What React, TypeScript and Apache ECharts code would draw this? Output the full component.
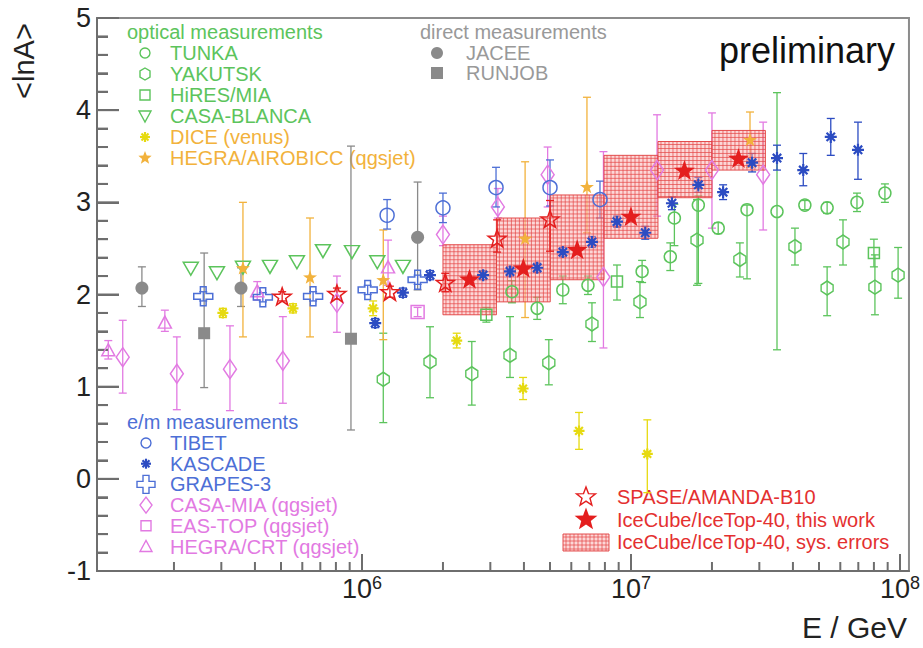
import React, { useEffect, useRef } from 'react';
import * as echarts from 'echarts';

// ---------------- data: [E (GeV), <lnA>, error down, error up] ----------------
const jacee = [[1.52e5, 2.07, 0.2, 0.23], [3.55e5, 2.07, 0.2, 0.22], [1.61e6, 2.62, 0.57, 0.6]];
const runjob = [[2.59e5, 1.58, 0.59, 0.87], [9.1e5, 1.52, 0.99, 2.09]];
const casaBlanca = [[2.31e5, 2.28], [2.89e5, 2.23], [3.61e5, 2.29], [4.55e5, 2.3], [5.73e5, 2.35], [7.16e5, 2.47], [9.18e5, 2.46], [1.14e6, 2.35], [1.42e6, 2.3]];
const hiresMia = [[2.9e6, 1.78, 0.08, 0.08], [8.87e6, 2.14, 0.2, 0.18], [8.0e7, 2.45, 0.15, 0.15]];
const dice = [[3.04e5, 1.8, 0.05, 0.05], [5.54e5, 1.85, 0.05, 0.05], [1.1e6, 1.85, 0.08, 0.08], [2.25e6, 1.5, 0.08, 0.08], [3.97e6, 0.98, 0.12, 0.12], [6.41e6, 0.52, 0.2, 0.2], [1.15e7, 0.27, 0.42, 0.37]];
const hegraAiro = [[3.61e5, 2.29, 0.75, 0.71], [6.41e5, 2.19, 0.65, 0.64], [1.2e6, 2.16, 0.65, 0.54], [4.04e6, 2.61, 0.86, 0.83], [6.86e6, 3.17, 0.5, 0.97], [2.77e7, 3.68, 0.3, 0.3]];
const tunka = [[3.61e6, 2.03, 0.12, 0.12], [4.48e6, 1.85, 0.12, 0.12], [5.58e6, 2.05, 0.15, 0.15], [6.92e6, 2.1, 0.1, 0.1], [1.1e7, 2.25, 0.12, 0.12], [1.4e7, 2.41, 0.15, 0.15], [1.45e7, 2.83, 0.3, 0.15], [1.78e7, 2.97, 0.85, 0.1], [2.11e7, 2.72, 0.06, 0.06], [2.7e7, 2.92, 0.75, 0.05], [3.49e7, 2.9, 1.5, 1.29], [4.43e7, 2.97, 0.05, 0.05], [5.36e7, 2.94, 0.06, 0.06], [6.92e7, 3.0, 0.1, 0.1], [8.79e7, 3.1, 0.1, 0.1]];
const yakutsk = [[1.2e6, 1.08, 0.47, 0.5], [1.79e6, 1.27, 0.39, 0.38], [2.56e6, 1.14, 0.34, 0.35], [3.55e6, 1.34, 0.24, 0.42], [4.95e6, 1.26, 0.24, 0.25], [7.16e6, 1.68, 0.19, 0.23], [1.08e7, 1.92, 0.17, 0.22], [1.76e7, 2.59, 0.49, 0.44], [2.54e7, 2.38, 0.19, 0.18], [4.07e7, 2.52, 0.2, 0.2], [5.36e7, 2.07, 0.3, 0.23], [6.14e7, 2.57, 0.25, 0.24], [8.07e7, 2.08, 0.3, 0.35], [9.84e7, 2.21, 0.25, 0.3]];
const tibet = [[1.24e6, 2.86, 0.15, 0.17], [2.0e6, 2.94, 0.16, 0.16], [3.15e6, 3.16, 0.21, 0.22], [5.0e6, 3.16, 0.2, 0.3], [7.67e6, 3.03, 0.2, 0.2]];
const kascade = [[1.12e6, 1.69, 0.05, 0.05], [1.42e6, 2.02, 0.05, 0.05], [1.79e6, 2.21, 0.05, 0.05], [2.82e6, 2.21, 0.05, 0.05], [3.55e6, 2.25, 0.05, 0.05], [4.48e6, 2.29, 0.05, 0.05], [5.58e6, 2.46, 0.05, 0.05], [7.16e6, 2.57, 0.06, 0.06], [8.87e6, 2.79, 0.06, 0.06], [1.13e7, 2.67, 0.07, 0.07], [1.42e7, 2.99, 0.07, 0.07], [1.78e7, 3.19, 0.08, 0.08], [2.2e7, 3.11, 0.08, 0.08], [2.82e7, 3.43, 0.1, 0.1], [3.49e7, 3.48, 0.13, 0.14], [4.37e7, 3.35, 0.17, 0.18], [5.53e7, 3.71, 0.2, 0.2], [6.98e7, 3.57, 0.32, 0.3]];
const grapes3 = [[2.57e5, 1.98, 0.05, 0.05], [4.28e5, 1.97, 0.05, 0.05], [6.58e5, 1.98, 0.05, 0.05], [1.05e6, 2.05, 0.05, 0.05], [1.61e6, 2.16, 0.05, 0.05]];
const casaMia = [[1.29e5, 1.32, 0.39, 0.4], [2.05e5, 1.14, 0.39, 0.4], [3.23e5, 1.19, 0.45, 0.47], [5.08e5, 1.28, 0.46, 0.48], [8.07e5, 1.91, 0.32, 0.29], [2.0e6, 2.65, 0.12, 0.2], [3.2e6, 2.95, 0.12, 0.2], [4.9e6, 3.3, 0.35, 0.3], [7.9e6, 2.19, 0.77, 1.36], [1.25e7, 3.35, 0.5, 0.6], [2.0e7, 3.35, 0.63, 0.62], [3.1e7, 3.3, 0.6, 0.57]];
const easTop = [[1.61e6, 1.81, 0.05, 0.05]];
const hegraCrt = [[1.14e5, 1.4, 0.1, 0.1], [1.85e5, 1.7, 0.1, 0.13], [4.08e5, 2.04, 0.1, 0.1], [1.25e6, 2.3, 0.2, 0.29]];
const spase = [[5.05e5, 1.98, 0.05, 0.05], [8.07e5, 2.01, 0.06, 0.06], [1.27e6, 2.03, 0.06, 0.06], [2.04e6, 2.13, 0.1, 0.1], [3.18e6, 2.61, 0.15, 0.2], [5.0e6, 2.82, 0.35, 0.2]];
const iceTopE = [2.51e6, 3.98e6, 6.31e6, 1.0e7, 1.58e7, 2.51e7];
const iceTopLnA = [2.17, 2.29, 2.49, 2.85, 3.35, 3.48];
const sysBinEdges = [2.0e6, 3.16e6, 5.01e6, 7.94e6, 1.26e7, 2.0e7, 3.16e7];
const sysLow = [1.78, 1.92, 2.16, 2.61, 3.05, 3.35];
const sysHigh = [2.54, 2.83, 3.08, 3.51, 3.66, 3.78];

const xMajorTicks = [1e6, 1e7, 1e8];
const xMinorTicks = [2e5, 3e5, 4e5, 5e5, 6e5, 7e5, 8e5, 9e5, 2e6, 3e6, 4e6, 5e6, 6e6, 7e6, 8e6, 9e6, 2e7, 3e7, 4e7, 5e7, 6e7, 7e7, 8e7, 9e7];
const yMajorTicks = [-1, 0, 1, 2, 3, 4, 5];
const yMinorTicks = [-0.8, -0.6, -0.4, -0.2, 0.2, 0.4, 0.6, 0.8, 1.2, 1.4, 1.6, 1.8, 2.2, 2.4, 2.6, 2.8, 3.2, 3.4, 3.6, 3.8, 4.2, 4.4, 4.6, 4.8];
const X_MIN = 1.035e5;
const X_MAX = 1.08e8;
const Y_MIN = -1;
const Y_MAX = 5;

// ---------------- style ----------------
const FONT = '"Liberation Sans", Arial, Helvetica, sans-serif';
const GREEN = '#5cc45c';
const YELLOW = '#e6da10';
const ORANGE = '#f2b23c';
const GRAY = '#8a8a8a';
const BLUE = '#4d6fd6';
const KBLUE = '#2c4cc2';
const MAGENTA = '#e27ae2';
const RED = '#e41e1e';
const AXIS = '#6e6e6e';

function starPoints(cx: number, cy: number, R: number, r: number) {
  const pts: number[][] = [];
  for (let i = 0; i < 10; i++) {
    const a = (-90 + 36 * i) * Math.PI / 180;
    const rad = i % 2 === 0 ? R : r;
    pts.push([cx + rad * Math.cos(a), cy + rad * Math.sin(a)]);
  }
  return pts;
}
const starPath = 'path://M' + starPoints(50, 50, 50, 20).map(p => p[0].toFixed(1) + ',' + p[1].toFixed(1)).join(' L') + ' Z';
const SYM = {
  star: starPath,
  cross: 'path://M35,0 L65,0 L65,35 L100,35 L100,65 L65,65 L65,100 L35,100 L35,65 L0,65 L0,35 L35,35 Z',
  asterisk: 'path://M0,50 L100,50 M50,0 L50,100 M15,15 L85,85 M85,15 L15,85',
  tridown: 'path://M0,0 L100,0 L50,87 Z',
  hex: 'path://M50,0 L90,28 L90,72 L50,100 L10,72 L10,28 Z',
};

type SetDef = { name: string; data: number[][]; symbol: string; size: any; color: string; fill: boolean; bw?: number };
const sets: SetDef[] = [
  { name: 'JACEE', data: jacee, symbol: 'circle', size: 13, color: GRAY, fill: true },
  { name: 'RUNJOB', data: runjob, symbol: 'rect', size: 12, color: GRAY, fill: true },
  { name: 'CASA-BLANCA', data: casaBlanca, symbol: SYM.tridown, size: [15, 13], color: GREEN, fill: false },
  { name: 'HiRES/MIA', data: hiresMia, symbol: 'rect', size: 11, color: GREEN, fill: false },
  { name: 'TUNKA', data: tunka, symbol: 'circle', size: 12, color: GREEN, fill: false },
  { name: 'YAKUTSK', data: yakutsk, symbol: SYM.hex, size: [12, 14], color: GREEN, fill: false },
  { name: 'DICE (venus)', data: dice, symbol: SYM.asterisk, size: 11, color: YELLOW, fill: false, bw: 2.2 },
  { name: 'HEGRA/AIROBICC (qgsjet)', data: hegraAiro, symbol: SYM.star, size: 14, color: ORANGE, fill: true },
  { name: 'CASA-MIA (qgsjet)', data: casaMia, symbol: 'diamond', size: [13, 19], color: MAGENTA, fill: false },
  { name: 'EAS-TOP (qgsjet)', data: easTop, symbol: 'rect', size: 13, color: MAGENTA, fill: false },
  { name: 'HEGRA/CRT (qgsjet)', data: hegraCrt, symbol: 'triangle', size: [13, 12], color: MAGENTA, fill: false },
  { name: 'TIBET', data: tibet, symbol: 'circle', size: 14, color: BLUE, fill: false },
  { name: 'GRAPES-3', data: grapes3, symbol: SYM.cross, size: 19, color: BLUE, fill: false },
  { name: 'KASCADE', data: kascade, symbol: SYM.asterisk, size: 12, color: KBLUE, fill: false, bw: 2.2 },
];

function errorSeries(name: string, data: number[][], color: string) {
  const rows = data.filter(d => d.length > 2).map(d => [d[0], d[1] - d[2], d[1] + d[3]]);
  return {
    type: 'custom', name: name + ' err', clip: false, silent: true,
    data: rows,
    renderItem: (params: any, api: any) => {
      const x = api.value(0);
      const lo = api.coord([x, api.value(1)]);
      const hi = api.coord([x, api.value(2)]);
      const w = 4;
      const st = { stroke: color, lineWidth: 1.3 };
      return {
        type: 'group', children: [
          { type: 'line', shape: { x1: lo[0], y1: lo[1], x2: hi[0], y2: hi[1] }, style: st },
          { type: 'line', shape: { x1: lo[0] - w, y1: lo[1], x2: lo[0] + w, y2: lo[1] }, style: st },
          { type: 'line', shape: { x1: hi[0] - w, y1: hi[1], x2: hi[0] + w, y2: hi[1] }, style: st },
        ],
      };
    },
  };
}

function scatterSeries(s: SetDef) {
  return {
    type: 'scatter', name: s.name, silent: true,
    symbol: s.symbol, symbolSize: s.size, symbolKeepAspect: s.symbol === SYM.star,
    data: s.data.map(d => [d[0], d[1]]),
    itemStyle: {
      color: s.fill ? s.color : 'rgba(0,0,0,0)',
      borderColor: s.color,
      borderWidth: s.bw ?? (s.fill ? 0 : 1.5),
      opacity: 1,
    },
  };
}

function hatch(x0: number, y0: number, w: number, h: number) {
  const ch: any[] = [{ type: 'rect', shape: { x: x0, y: y0, width: w, height: h }, style: { fill: 'rgba(250,175,175,0.5)', stroke: 'rgba(225,60,60,0.9)', lineWidth: 1 } }];
  const st = { stroke: 'rgba(228,70,70,0.7)', lineWidth: 1 };
  for (let x = x0 + 3; x < x0 + w - 1; x += 4) ch.push({ type: 'line', shape: { x1: x, y1: y0, x2: x, y2: y0 + h }, style: st });
  for (let y = y0 + 3; y < y0 + h - 1; y += 4) ch.push({ type: 'line', shape: { x1: x0, y1: y, x2: x0 + w, y2: y }, style: st });
  return ch;
}

const sysSeries = {
  type: 'custom', name: 'sys', clip: false, silent: true,
  data: sysLow.map((lo, i) => [sysBinEdges[i], sysBinEdges[i + 1], lo, sysHigh[i]]),
  renderItem: (params: any, api: any) => {
    const p0 = api.coord([api.value(0), api.value(3)]);
    const p1 = api.coord([api.value(1), api.value(2)]);
    return { type: 'group', children: hatch(p0[0], p0[1], p1[0] - p0[0], p1[1] - p0[1]) };
  },
};

// all axis tick marks (ROOT style, inside the frame), placed through the axes' scales
const axisTickSeries = {
  type: 'custom', name: 'axis ticks', clip: false, silent: true,
  data: [[1e6, 0]],
  renderItem: (params: any, api: any) => {
    const cs = params.coordSys;
    const left = cs.x;
    const bottom = cs.y + cs.height;
    const st = { stroke: AXIS, lineWidth: 2 };
    const ch: any[] = [];
    xMajorTicks.forEach(t => { const x = api.coord([t, 0])[0]; ch.push({ type: 'line', shape: { x1: x, y1: bottom, x2: x, y2: bottom - 17 }, style: st }); });
    xMinorTicks.forEach(t => { const x = api.coord([t, 0])[0]; ch.push({ type: 'line', shape: { x1: x, y1: bottom, x2: x, y2: bottom - 9 }, style: st }); });
    yMajorTicks.forEach(t => { const y = api.coord([1e6, t])[1]; ch.push({ type: 'line', shape: { x1: left, y1: y, x2: left + 22, y2: y }, style: st }); });
    yMinorTicks.forEach(t => { const y = api.coord([1e6, t])[1]; ch.push({ type: 'line', shape: { x1: left, y1: y, x2: left + 11, y2: y }, style: st }); });
    return { type: 'group', children: ch };
  },
};

// ---------------- legend (graphic) ----------------
function marker(kind: string, cx: number, cy: number, color: string): any {
  const open = { fill: 'none', stroke: color, lineWidth: 1.4 };
  const full = { fill: color };
  switch (kind) {
    case 'circle': return { type: 'circle', shape: { cx, cy, r: 5 }, style: open };
    case 'fcircle': return { type: 'circle', shape: { cx, cy, r: 6 }, style: full };
    case 'square': return { type: 'rect', shape: { x: cx - 5, y: cy - 5, width: 10, height: 10 }, style: open };
    case 'fsquare': return { type: 'rect', shape: { x: cx - 6, y: cy - 6, width: 12, height: 12 }, style: full };
    case 'hex': return { type: 'polygon', shape: { points: [[cx, cy - 6], [cx + 5, cy - 3], [cx + 5, cy + 3], [cx, cy + 6], [cx - 5, cy + 3], [cx - 5, cy - 3]] }, style: open };
    case 'tridown': return { type: 'polygon', shape: { points: [[cx - 6, cy - 5], [cx + 6, cy - 5], [cx, cy + 6]] }, style: open };
    case 'triup': return { type: 'polygon', shape: { points: [[cx - 6, cy + 5], [cx + 6, cy + 5], [cx, cy - 6]] }, style: open };
    case 'diamond': return { type: 'polygon', shape: { points: [[cx, cy - 8], [cx + 6, cy], [cx, cy + 8], [cx - 6, cy]] }, style: open };
    case 'asterisk': {
      const st = { stroke: color, lineWidth: 2.2 };
      return { type: 'group', children: [
        { type: 'line', shape: { x1: cx - 5, y1: cy, x2: cx + 5, y2: cy }, style: st },
        { type: 'line', shape: { x1: cx, y1: cy - 5, x2: cx, y2: cy + 5 }, style: st },
        { type: 'line', shape: { x1: cx - 3.5, y1: cy - 3.5, x2: cx + 3.5, y2: cy + 3.5 }, style: st },
        { type: 'line', shape: { x1: cx + 3.5, y1: cy - 3.5, x2: cx - 3.5, y2: cy + 3.5 }, style: st },
      ] };
    }
    case 'fstarSmall': return { type: 'polygon', shape: { points: starPoints(cx, cy, 7, 3) }, style: full };
    case 'ostar': return { type: 'polygon', shape: { points: starPoints(cx, cy, 10, 4.2) }, style: { fill: 'none', stroke: color, lineWidth: 1.4 } };
    case 'fstar': return { type: 'polygon', shape: { points: starPoints(cx, cy, 12, 5) }, style: full };
    case 'cross': return { type: 'polygon', shape: { points: [[cx - 3, cy - 9], [cx + 3, cy - 9], [cx + 3, cy - 3], [cx + 9, cy - 3], [cx + 9, cy + 3], [cx + 3, cy + 3], [cx + 3, cy + 9], [cx - 3, cy + 9], [cx - 3, cy + 3], [cx - 9, cy + 3], [cx - 9, cy - 3], [cx - 3, cy - 3]] }, style: open };
    case 'box': return { type: 'group', children: hatch(cx - 23, cy - 8, 46, 17) };
  }
  return null;
}

function text(t: string, x: number, y: number, color: string, size = 20, align = 'left'): any {
  return { type: 'text', x, y, style: { text: t, fill: color, fontSize: size, fontFamily: FONT, align, verticalAlign: 'middle' } };
}

const legendOptical = [
  ['circle', 'TUNKA', GREEN, GREEN], ['hex', 'YAKUTSK', GREEN, GREEN], ['square', 'HiRES/MIA', GREEN, GREEN],
  ['tridown', 'CASA-BLANCA', GREEN, GREEN], ['asterisk', 'DICE (venus)', YELLOW, ORANGE], ['fstarSmall', 'HEGRA/AIROBICC (qgsjet)', ORANGE, ORANGE],
];
const legendDirect = [['fcircle', 'JACEE'], ['fsquare', 'RUNJOB']];
const legendEm = [
  ['circle', 'TIBET', BLUE, BLUE], ['asterisk', 'KASCADE', KBLUE, BLUE], ['cross', 'GRAPES-3', BLUE, BLUE],
  ['diamond', 'CASA-MIA (qgsjet)', MAGENTA, MAGENTA], ['square', 'EAS-TOP (qgsjet)', MAGENTA, MAGENTA], ['triup', 'HEGRA/CRT (qgsjet)', MAGENTA, MAGENTA],
];
const legendRed = [['ostar', 'SPASE/AMANDA-B10'], ['fstar', 'IceCube/IceTop-40, this work'], ['box', 'IceCube/IceTop-40, sys. errors']];

function buildGraphic() {
  const g: any[] = [];
  g.push(text('optical measurements', 127, 32, GREEN));
  legendOptical.forEach((r, i) => { const y = 53 + i * 21; g.push(marker(r[0], 145, y, r[2])); g.push(text(r[1], 170, y, r[3])); });
  g.push(text('direct measurements', 420, 32, '#999999'));
  legendDirect.forEach((r, i) => { const y = 53 + i * 20; g.push(marker(r[0], 437, y, GRAY)); g.push(text(r[1], 466, y, '#999999')); });
  g.push(text('e/m measurements', 127, 422, BLUE));
  legendEm.forEach((r, i) => { const y = 443 + i * 20.7; g.push(marker(r[0], 146, y, r[2])); g.push(text(r[1], 170, y, r[3])); });
  legendRed.forEach((r, i) => { const y = 497 + i * 22.5; g.push(marker(r[0], 586, y, RED)); g.push(text(r[1], 617, y, '#e43030')); });
  g.push(text('preliminary', 807, 50, '#111111', 36, 'center'));
  g.push(text('E / GeV', 907, 627, '#222222', 30, 'right'));
  g.push({ type: 'text', x: 24, y: 61, rotation: Math.PI / 2, style: { text: '<lnA>', fill: '#222222', fontSize: 29, fontFamily: FONT, align: 'center', verticalAlign: 'middle' } });
  return g;
}

function buildOption() {
  const series: any[] = [];
  sets.forEach(s => series.push(errorSeries(s.name, s.data, s.color)));
  sets.forEach(s => series.push(scatterSeries(s)));
  series.push(sysSeries);
  series.push(errorSeries('SPASE/AMANDA-B10', spase, RED));
  series.push(scatterSeries({ name: 'SPASE/AMANDA-B10', data: spase, symbol: SYM.star, size: 18, color: RED, fill: false }));
  series.push(scatterSeries({ name: 'IceCube/IceTop-40', data: iceTopE.map((e, i) => [e, iceTopLnA[i]]), symbol: SYM.star, size: 21, color: RED, fill: true }));
  series.push(axisTickSeries);
  return {
    animation: false,
    backgroundColor: '#ffffff',
    grid: { left: 97, right: 14, top: 18, bottom: 77, show: true, borderColor: '#8c8c8c', borderWidth: 2, backgroundColor: 'transparent' },
    xAxis: {
      type: 'log', logBase: 10, min: X_MIN, max: X_MAX,
      axisLine: { show: true, onZero: false, lineStyle: { color: AXIS, width: 2 } },
      axisTick: { show: false }, splitLine: { show: false }, minorTick: { show: false },
      axisLabel: {
        show: true, margin: 3, color: '#222',
        formatter: (v: number) => {
          const l = Math.log10(v);
          if (Math.abs(l - Math.round(l)) < 1e-6) return '{b|10}{s|' + Math.round(l) + '}';
          return '';
        },
        rich: {
          b: { fontSize: 27, fontFamily: FONT, color: '#222', lineHeight: 30 },
          s: { fontSize: 18, fontFamily: FONT, color: '#222', verticalAlign: 'top', lineHeight: 18 },
        },
      },
    },
    yAxis: {
      type: 'value', min: Y_MIN, max: Y_MAX, interval: 1,
      axisLine: { show: true, onZero: false, lineStyle: { color: AXIS, width: 2 } },
      axisTick: { show: true, inside: true, length: 22, lineStyle: { color: AXIS, width: 2 } },
      minorTick: { show: true, splitNumber: 5, length: 11, lineStyle: { color: AXIS, width: 2 } },
      splitLine: { show: false }, minorSplitLine: { show: false },
      axisLabel: { show: true, margin: 6, fontSize: 27, fontFamily: FONT, color: '#222' },
    },
    graphic: buildGraphic(),
    series,
  };
}

export default function App() {
  const ref = useRef<HTMLDivElement>(null);
  useEffect(() => {
    const chart = echarts.init(ref.current as HTMLDivElement, null, { renderer: 'svg' });
    chart.setOption(buildOption() as any);
    return () => chart.dispose();
  }, []);
  return <div ref={ref} style={{ position: 'absolute', left: 0, top: 0, width: 923, height: 648, background: '#fff' }} />;
}
